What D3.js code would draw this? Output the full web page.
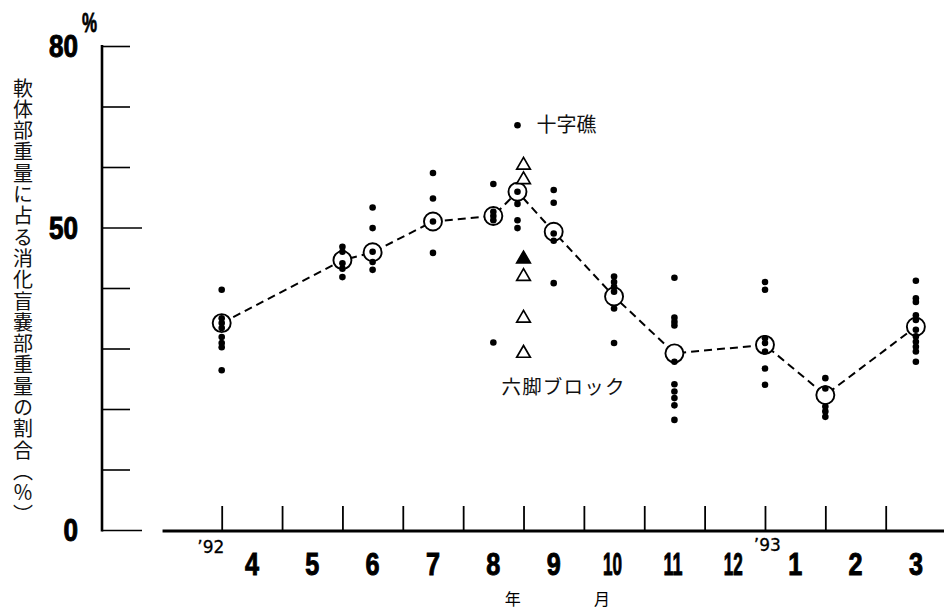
<!DOCTYPE html>
<html><head><meta charset="utf-8">
<script src="https://cdn.jsdelivr.net/npm/d3@7"></script>
<style>body{margin:0;background:#fff} svg{display:block}</style>
</head><body><svg id="c" width="944" height="613"></svg>
<script>
// ---- data ----
const monthLabels = ["4","5","6","7","8","9","10","11","12","1","2","3"];
const yearLabels = [{t:"’92", m:-0.18}, {t:"’93", m:9.04}];
const yTickValues = [0,10,20,30,40,50,60,70,80];
const yLabelValues = [0,50,80];
// sampling positions: months after 1 April 1992
const sampleX = [0, 2.0, 2.5, 3.5, 4.5, 4.9, 5.5, 6.5, 7.5, 9.0, 10.0, 11.5];
const meanValues = [34.2, 44.6, 45.9, 51.0, 51.9, 55.9, 49.3, 38.6, 29.2, 30.6, 22.3, 33.6];
const dotValues = [
  [39.7, 35.0, 34.2, 33.4, 31.9, 30.9, 30.2, 26.4],
  [46.8, 46.0, 44.1, 43.2, 41.8],
  [53.3, 49.9, 46.0, 44.3, 43.0],
  [59.0, 54.8, 51.0, 45.8],
  [57.2, 52.6, 51.9, 51.2, 31.0],
  [66.9, 55.9, 53.9, 51.2, 49.9],
  [56.2, 54.1, 49.0, 47.8, 40.8],
  [41.9, 41.0, 40.2, 39.4, 36.6, 30.9],
  [41.7, 35.1, 34.4, 33.8, 27.8, 24.1, 22.9, 21.8, 20.6, 18.2],
  [41.0, 39.7, 31.7, 30.9, 29.5, 26.7, 24.0],
  [25.1, 23.4, 20.4, 19.6, 18.7],
  [41.2, 38.3, 37.7, 35.5, 34.7, 33.1, 32.0, 31.1, 30.3, 29.5, 27.8]
];
const triangleX = 5.0;
const triangleOpen = [60.3, 57.9, 41.9, 35.0, 29.2];
const triangleFilled = [44.8];
const siteLabels = [{t:"十字礁", m:4.9, v:66.9}, {t:"六脚ブロック", m:4.9, v:23.6}];
const yTitle = "軟体部重量に占る消化盲嚢部重量の割合（％）";

// ---- drawing ----
const svg = d3.select("#c");
const x = d3.scaleLinear().domain([0, 11]).range([221.7, 885.7]);
const y = d3.scaleLinear().domain([0, 80]).range([530, 46]);
const numFont = "'Liberation Sans', Arial, sans-serif";
const jpFont = "'Noto Sans CJK JP', sans-serif";

// y axis
const gy = svg.append("g").attr("transform", "translate(102,0)")
  .call(d3.axisRight(y).tickValues(yTickValues).tickSize(28).tickSizeOuter(0).tickFormat(""));
gy.select(".domain").attr("stroke-width", 2.6).attr("d", `M0,${y(80)-1}V${y(0)+1.5}`);
gy.selectAll(".tick line").attr("stroke-width", 1.6)
  .attr("x2", d => (d === 50 || d === 0) ? 40 : 28);

svg.append("g").selectAll("text").data(yLabelValues).join("text")
  .attr("x", 78).attr("y", d => y(d) + 11)
  .attr("text-anchor", "end")
  .attr("font-family", numFont).attr("font-weight", "bold").attr("font-size", 31)
  .attr("textLength", d => String(d).length * 14.5).attr("lengthAdjust", "spacingAndGlyphs")
  .attr("stroke", "#000").attr("stroke-width", 1.0)
  .text(d => d);
svg.append("text").attr("x", 82).attr("y", 32)
  .attr("font-family", numFont).attr("font-weight", "bold").attr("font-size", 28)
  .attr("textLength", 15).attr("lengthAdjust", "spacingAndGlyphs")
  .attr("stroke", "#000").attr("stroke-width", 0.8)
  .text("%");

// y title vertical
svg.append("text")
  .attr("x", 23).attr("y", 78)
  .attr("writing-mode", "vertical-rl")
  .style("writing-mode", "vertical-rl")
  .attr("font-family", jpFont).attr("font-size", 20).attr("letter-spacing", 1.3)
  .attr("fill", "#111")
  .text(yTitle);

// x axis
svg.append("line").attr("x1", x(-0.98)).attr("x2", 944).attr("y1", 531).attr("y2", 531)
  .attr("stroke", "#000").attr("stroke-width", 2.8);
const gx = svg.append("g").attr("transform", "translate(0,531)")
  .call(d3.axisTop(x).tickValues(d3.range(12)).tickSize(25).tickSizeOuter(0).tickFormat(""));
gx.select(".domain").remove();
gx.selectAll(".tick line").attr("stroke-width", 1.8);

svg.append("g").selectAll("text").data(monthLabels).join("text")
  .attr("x", (d, i) => x(i + 0.5) - (d.length === 2 ? 1.5 : 0)).attr("y", 575)
  .attr("text-anchor", "middle")
  .attr("font-family", numFont).attr("font-weight", "bold").attr("font-size", 32)
  .attr("textLength", d => d.length === 1 ? 14 : 19).attr("lengthAdjust", "spacingAndGlyphs")
  .attr("stroke", "#000").attr("stroke-width", 1.0)
  .text(d => d);
svg.append("g").selectAll("text").data(yearLabels).join("text")
  .attr("x", d => x(d.m)).attr("y", d => d.m > 5 ? 551 : 553)
  .attr("text-anchor", "middle")
  .attr("font-family", "'DejaVu Sans', sans-serif").attr("font-size", 17)
  .attr("stroke", "#000").attr("stroke-width", 0.3)
  .text(d => d.t);
svg.append("text").attr("x", x(4.82)).attr("y", 605).attr("text-anchor", "middle")
  .attr("font-family", jpFont).attr("font-size", 16).text("年");
svg.append("text").attr("x", x(6.3)).attr("y", 605).attr("text-anchor", "middle")
  .attr("font-family", jpFont).attr("font-size", 16).text("月");

// dashed mean line
const meanPts = sampleX.map((m, i) => [x(m), y(meanValues[i])]);
svg.append("path").attr("d", d3.line()(meanPts))
  .attr("fill", "none").attr("stroke", "#000").attr("stroke-width", 2)
  .attr("stroke-dasharray", "8,5");

// mean circles
svg.append("g").selectAll("circle").data(meanPts).join("circle")
  .attr("cx", d => d[0]).attr("cy", d => d[1]).attr("r", 9)
  .attr("fill", "#fff").attr("stroke", "#000").attr("stroke-width", 1.9);

// individual dots
const dots = [];
dotValues.forEach((arr, i) => arr.forEach(v => dots.push([sampleX[i], v])));
svg.append("g").selectAll("circle").data(dots).join("circle")
  .attr("cx", d => x(d[0])).attr("cy", d => y(d[1])).attr("r", 3.3)
  .attr("fill", "#000");

// triangles
const tri = d3.symbol().type(d3.symbolTriangle).size(80);
svg.append("g").selectAll("path").data(triangleOpen).join("path")
  .attr("d", tri).attr("transform", d => `translate(${x(triangleX)},${y(d)})`)
  .attr("fill", "#fff").attr("stroke", "#000").attr("stroke-width", 1.7);
svg.append("g").selectAll("path").data(triangleFilled).join("path")
  .attr("d", tri).attr("transform", d => `translate(${x(triangleX)},${y(d)})`)
  .attr("fill", "#000").attr("stroke", "#000").attr("stroke-width", 1.7);

// site labels
svg.append("text").attr("x", x(siteLabels[0].m) + 19).attr("y", y(siteLabels[0].v) + 7)
  .attr("font-family", jpFont).attr("font-size", 20).attr("fill", "#111").text(siteLabels[0].t);
svg.append("text").attr("x", x(siteLabels[1].m) - 16).attr("y", y(siteLabels[1].v) + 7)
  .attr("font-family", jpFont).attr("font-size", 19.5).attr("letter-spacing", 1.2).attr("fill", "#111").text(siteLabels[1].t);
</script>
</body></html>
